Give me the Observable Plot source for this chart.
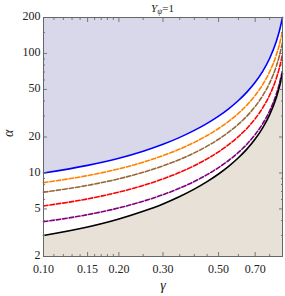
<!DOCTYPE html>
<html><head><meta charset="utf-8">
<script src="https://cdn.jsdelivr.net/npm/d3@7"></script>
<script src="https://cdn.jsdelivr.net/npm/@observablehq/plot@0.6"></script>
<style>body{margin:0;background:#fff}</style>
</head><body><div id="chart"></div>
<script>
const gamma = [0.1, 0.15, 0.2, 0.25, 0.3, 0.35, 0.4, 0.45, 0.5, 0.55, 0.6, 0.65, 0.7, 0.75, 0.8, 0.85, 0.875, 0.9];
const alphaBlue   = [10.0, 11.57, 13.29, 15.22, 17.39, 19.86, 22.71, 26.02, 29.93, 34.63, 40.40, 47.70, 57.39, 70.89, 91.26, 125.9, 154.9, 200];
const alphaOrange = [8.30, 9.51, 10.83, 12.31, 13.98, 15.86, 18.04, 20.57, 23.56, 27.15, 31.56, 37.13, 44.54, 54.86, 70.44, 96.95, 119.1, 153.6];
const alphaBrown  = [6.90, 7.88, 8.94, 10.13, 11.47, 12.99, 14.73, 16.76, 19.16, 22.05, 25.59, 30.06, 36.01, 44.29, 56.80, 78.08, 95.89, 123.6];
const alphaRed    = [5.30, 6.07, 6.92, 7.86, 8.92, 10.13, 11.51, 13.13, 15.04, 17.33, 20.15, 23.70, 28.42, 35.00, 44.94, 61.85, 75.99, 98.0];
const alphaPurple = [3.91, 4.48, 5.10, 5.80, 6.58, 7.47, 8.49, 9.69, 11.09, 12.78, 14.86, 17.49, 20.98, 25.84, 33.17, 45.65, 56.10, 72.35];
const alphaBlack  = [3.00, 3.53, 4.12, 4.78, 5.51, 6.36, 7.33, 8.46, 9.80, 11.41, 13.40, 15.90, 19.21, 23.83, 30.80, 42.65, 52.56, 68.0];

const xTicks = [0.1, 0.15, 0.2, 0.3, 0.5, 0.7];
const xTickLabels = ["0.10", "0.15", "0.20", "0.30", "0.50", "0.70"];
const xMinorTicks = [0.11, 0.12, 0.13, 0.14, 0.16, 0.17, 0.18, 0.19, 0.25, 0.35, 0.4, 0.45, 0.6, 0.8, 0.9];
const yTicks = [2, 5, 10, 20, 50, 100, 200];
const yTickLabels = ["2", "5", "10", "20", "50", "100", "200"];
const yMinorTicks = [3, 4, 6, 7, 8, 9, 30, 40, 60, 70, 80, 90, 150];
const xDomain = [0.1, 0.9];
const yDomain = [2, 200];

const series = [
  {name: "blue", values: alphaBlue, color: "#0000ff", dash: null},
  {name: "orange", values: alphaOrange, color: "#ff8000", dash: "4.5,2"},
  {name: "brown", values: alphaBrown, color: "#996633", dash: "4.5,2"},
  {name: "red", values: alphaRed, color: "#ff0000", dash: "4.5,2"},
  {name: "purple", values: alphaPurple, color: "#800080", dash: "4.5,2"},
  {name: "black", values: alphaBlack, color: "#000000", dash: null}
];
const rows = s => gamma.map((g, i) => ({g, a: s.values[i]}));
const curve = "monotone-x";

const lines = series.map(s => Plot.line(rows(s), {
  x: "g", y: "a", stroke: s.color, strokeWidth: 1.6,
  strokeDasharray: s.dash ?? undefined, curve
}));

const xLabelRows = xTicks.map((v, i) => ({v, t: xTickLabels[i]}));
const yLabelRows = yTicks.map((v, i) => ({v, t: yTickLabels[i]}));

const tickStroke = "#777";
const plot = Plot.plot({
  width: 285, height: 296,
  marginLeft: 43, marginRight: 3, marginTop: 17, marginBottom: 40,
  style: {fontFamily: "'Liberation Serif', 'DejaVu Serif', serif", fontSize: "12px", background: "#fff", color: "#222"},
  x: {type: "log", domain: xDomain},
  y: {type: "log", domain: yDomain},
  marks: [
    Plot.areaY(rows(series[0]), {x: "g", y1: "a", y2: yDomain[1], fill: "#d8d8ea", curve}),
    Plot.areaY(rows(series[5]), {x: "g", y1: yDomain[0], y2: "a", fill: "#e8e1d7", curve}),
    ...lines,
    Plot.axisX(xTicks, {anchor: "bottom", tickSize: -4, fill: "none", stroke: tickStroke, label: null}),
    Plot.axisX(xMinorTicks, {anchor: "bottom", tickSize: -2, fill: "none", stroke: tickStroke, label: null}),
    Plot.axisX(xTicks, {anchor: "top", tickSize: -4, fill: "none", stroke: tickStroke, label: null}),
    Plot.axisX(xMinorTicks, {anchor: "top", tickSize: -2, fill: "none", stroke: tickStroke, label: null}),
    Plot.axisY(yTicks, {anchor: "left", tickSize: -4, fill: "none", stroke: tickStroke, label: null}),
    Plot.axisY(yMinorTicks, {anchor: "left", tickSize: -2, fill: "none", stroke: tickStroke, label: null}),
    Plot.axisY(yTicks, {anchor: "right", tickSize: -4, fill: "none", stroke: tickStroke, label: null}),
    Plot.axisY(yMinorTicks, {anchor: "right", tickSize: -2, fill: "none", stroke: tickStroke, label: null}),
    Plot.text(xLabelRows, {x: "v", text: "t", frameAnchor: "bottom", dy: 12.5, lineAnchor: "middle", fill: "#222"}),
    Plot.text(yLabelRows, {y: "v", text: "t", frameAnchor: "left", dx: -3, dy: -1, textAnchor: "end", lineAnchor: "middle", fill: "#222"}),
    Plot.frame({stroke: "#666", strokeWidth: 1}),
    Plot.text(["γ"], {frameAnchor: "bottom", dy: 33, fontStyle: "italic", fontSize: 14, text: d => d}),
    Plot.text(["α"], {frameAnchor: "left", dx: -35, rotate: -90, fontStyle: "italic", fontSize: 14, text: d => d})
  ]
});

const svg = d3.select(plot);
const title = svg.append("text")
  .attr("x", (43 + 282) / 2).attr("y", 12)
  .attr("text-anchor", "middle")
  .style("font-family", "'Liberation Serif', serif")
  .style("font-size", "11px").attr("fill", "#222");
title.append("tspan").style("font-style", "italic").text("Y");
title.append("tspan").style("font-style", "italic").style("font-size", "8px").attr("dy", 2).text("ψ");
title.append("tspan").attr("dy", -2).text("=1");

document.getElementById("chart").appendChild(plot);
</script>
</body></html>
